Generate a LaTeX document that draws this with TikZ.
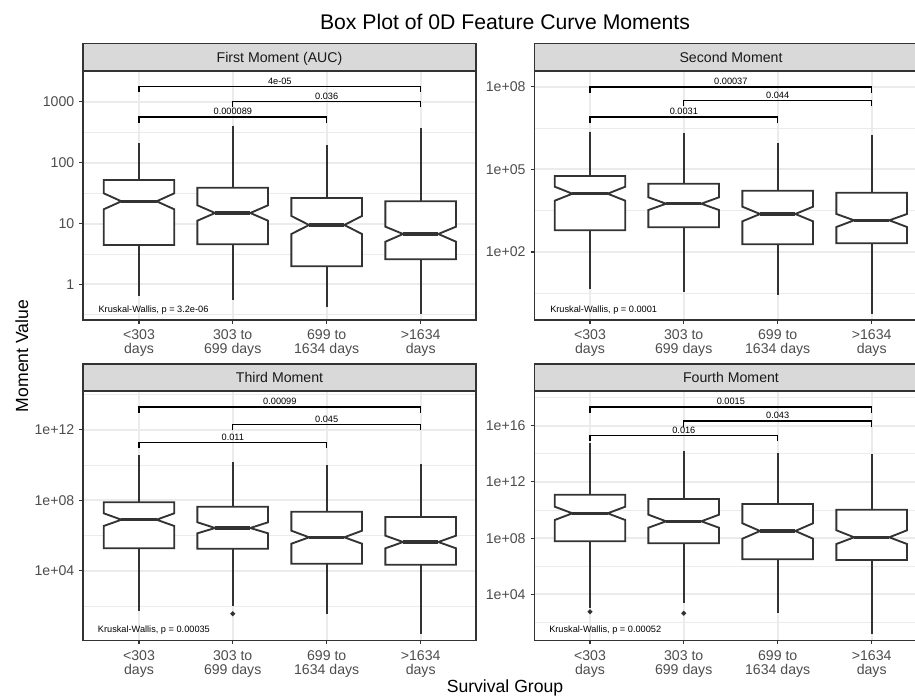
\documentclass[tikz,border=0pt]{standalone}
\usepackage{fontspec}
\setmainfont{Liberation Sans}

\definecolor{gridgray}{HTML}{EBEBEB}
\definecolor{linegray}{HTML}{333333}
\definecolor{stripgray}{HTML}{D9D9D9}
\definecolor{ticktext}{HTML}{4D4D4D}

% notched box: x, whisker top, box top, notch top, median, notch bottom, box bottom, whisker bottom
\newcommand{\notchbox}[8]{%
  \draw[whisk] (#1,#2) -- (#1,#3);
  \draw[whisk] (#1,#7) -- (#1,#8);
  \draw[boxline] (#1-35.3,#3) -- (#1+35.3,#3) -- (#1+35.3,#4) -- (#1+17.6,#5) -- (#1+35.3,#6)
    -- (#1+35.3,#7) -- (#1-35.3,#7) -- (#1-35.3,#6) -- (#1-17.6,#5) -- (#1-35.3,#4) -- cycle;
  \draw[medline] (#1-17.6,#5) -- (#1+17.6,#5);
}
% p-value bracket: x from, x to, y, label
\newcommand{\pbracket}[4]{%
  \draw[bracket] (#1,#3+5.5) -- (#1,#3) -- (#2,#3) -- (#2,#3+5.5);
  \node[smalltext, anchor=base] at ({(#1+#2)/2},#3-2.1) {#4};
}
% y tick: panel left, y, label
\newcommand{\ytick}[3]{%
  \draw[tickline] (#1-3.7,#2) -- (#1,#2);
  \node[ticklab, anchor=east] at (#1-8.5,#2) {#3};
}
% outlier diamond
\newcommand{\outpt}[2]{%
  \fill[linegray] (#1,#2-2.6) -- (#1+2.6,#2) -- (#1,#2+2.6) -- (#1-2.6,#2) -- cycle;
}

\begin{document}
\begin{tikzpicture}[
    x=0.75pt, y=-0.75pt,
    gridmaj/.style={draw=gridgray, line width=1.4pt},
    gridmin/.style={draw=gridgray, line width=0.7pt},
    whisk/.style={draw=linegray, line width=1.4pt},
    boxline/.style={draw=linegray, fill=white, line width=1.4pt, line join=miter},
    medline/.style={draw=linegray, line width=2.4pt},
    bracket/.style={draw=black, line width=0.8pt},
    tickline/.style={draw=linegray, line width=1pt},
    frame/.style={draw=linegray, line width=1pt},
    strip/.style={draw=linegray, fill=stripgray, line width=1pt},
    ticklab/.style={inner sep=0pt, text=ticktext, font=\fontsize{10.6}{11}\selectfont},
    xlab/.style={inner sep=0pt, text=ticktext, align=center, anchor=north, font=\fontsize{10.6}{10.6}\selectfont},
    striplab/.style={inner sep=0pt, text=black!90, anchor=base, font=\fontsize{10.6}{11}\selectfont},
    smalltext/.style={inner sep=0pt, font=\fontsize{6.9}{7}\selectfont},
    axtitle/.style={inner sep=0pt, font=\fontsize{13.2}{14}\selectfont}
  ]
  \useasboundingbox (0,0) rectangle (915,696);
  \clip (0,0) rectangle (915,696);

  % Titles
  \node[inner sep=0pt, anchor=base, font=\fontsize{15.9}{17}\selectfont] (title) at (505,30) {Box Plot of 0D Feature Curve Moments};
  \node[axtitle, anchor=base] (xtitle) at (505,692.5) {Survival Group};
  \node[axtitle, anchor=base, rotate=90] (ytitle) at (28,356) {Moment Value};

  % Panel 1 - First Moment (AUC)
  \draw[gridmin] (83,132.2) -- (476,132.2) (83,193.2) -- (476,193.2) (83,254) -- (476,254) (83,314.8) -- (476,314.8);
  \draw[gridmaj] (83,101.7) -- (476,101.7) (83,162.7) -- (476,162.7) (83,223.7) -- (476,223.7) (83,284.3) -- (476,284.3);
  \draw[gridmaj] (139,71) -- (139,320) (232.7,71) -- (232.7,320) (326.7,71) -- (326.7,320) (420.7,71) -- (420.7,320);
  \notchbox{139}{143.3}{180}{193.3}{201.3}{209.3}{245}{296}
  \notchbox{232.7}{125.7}{187.7}{205.3}{213}{220.7}{244.3}{300}
  \notchbox{326.7}{145.3}{198}{216}{225}{234}{266.3}{307.3}
  \notchbox{420.7}{128.3}{201.3}{226.7}{234}{241.7}{259.3}{314}
  \pbracket{139}{420.7}{86.7}{4e-05}
  \pbracket{232.7}{420.7}{101.7}{0.036}
  \pbracket{139}{326.7}{117}{0.000089}
  \node[smalltext, anchor=base west] (kw1) at (98.3,312) {Kruskal-Wallis, p = 3.2e-06};
  \draw[frame] (83,71) rectangle (476,320);
  \draw[strip] (83,43.3) rectangle (476,71);
  \node[striplab] (strip1) at (279.5,62) {First Moment (AUC)};
  \ytick{83}{101.7}{1000}
  \ytick{83}{162.7}{100}
  \ytick{83}{223.7}{10}
  \ytick{83}{284.3}{1}

  % Panel 2 - Second Moment
  \draw[gridmin] (534.3,128.3) -- (928,128.3) (534.3,210.7) -- (928,210.7) (534.3,293.3) -- (928,293.3);
  \draw[gridmaj] (534.3,86.7) -- (928,86.7) (534.3,169.3) -- (928,169.3) (534.3,252) -- (928,252);
  \draw[gridmaj] (590,71) -- (590,320) (683.7,71) -- (683.7,320) (777.7,71) -- (777.7,320) (871.7,71) -- (871.7,320);
  \notchbox{590}{131.7}{176}{186.7}{193.7}{200.7}{230.3}{289.3}
  \notchbox{683.7}{132.7}{183.7}{197.3}{203.7}{210}{227.3}{291.7}
  \notchbox{777.7}{143}{190.7}{206.7}{214}{221.3}{244.3}{295}
  \notchbox{871.7}{135}{192.7}{214}{220.3}{227}{243.3}{314}
  \pbracket{590}{871.7}{87}{0.00037}
  \pbracket{683.7}{871.7}{100.3}{0.044}
  \pbracket{590}{777.7}{117}{0.0031}
  \node[smalltext, anchor=base west] (kw2) at (550,312) {Kruskal-Wallis, p = 0.0001};
  \draw[frame] (534.3,71) rectangle (928,320);
  \draw[strip] (534.3,43.3) rectangle (928,71);
  \node[striplab] (strip2) at (731,62) {Second Moment};
  \ytick{534.3}{86.7}{1e+08}
  \ytick{534.3}{169.3}{1e+05}
  \ytick{534.3}{252}{1e+02}

  % Panel 3 - Third Moment
  \draw[gridmin] (83,394.4) -- (476,394.4) (83,465) -- (476,465) (83,535.5) -- (476,535.5) (83,606) -- (476,606);
  \draw[gridmaj] (83,429.7) -- (476,429.7) (83,500.3) -- (476,500.3) (83,570.7) -- (476,570.7);
  \draw[gridmaj] (139,391) -- (139,640.7) (232.7,391) -- (232.7,640.7) (326.7,391) -- (326.7,640.7) (420.7,391) -- (420.7,640.7);
  \notchbox{139}{455.3}{502.3}{513.3}{519.7}{526}{548.3}{610.7}
  \notchbox{232.7}{462.3}{506.7}{522.3}{528}{533.3}{548.7}{606}
  \notchbox{326.7}{465.3}{511.7}{530.7}{537.3}{543.7}{563.7}{614}
  \notchbox{420.7}{464}{517}{535.7}{542}{548.3}{564.7}{634}
  \outpt{232.7}{613.7}
  \pbracket{139}{420.7}{407}{0.00099}
  \pbracket{232.7}{420.7}{424.7}{0.045}
  \pbracket{139}{326.7}{442.3}{0.011}
  \node[smalltext, anchor=base west] (kw3) at (97.7,632.6) {Kruskal-Wallis, p = 0.00035};
  \draw[frame] (83,391) rectangle (476,640.7);
  \draw[strip] (83,364) rectangle (476,391);
  \node[striplab] (strip3) at (279.5,382.5) {Third Moment};
  \ytick{83}{429.7}{1e+12}
  \ytick{83}{500.3}{1e+08}
  \ytick{83}{570.7}{1e+04}

  % Panel 4 - Fourth Moment
  \draw[gridmin] (534.3,397.5) -- (928,397.5) (534.3,453.5) -- (928,453.5) (534.3,510) -- (928,510) (534.3,566) -- (928,566) (534.3,622.3) -- (928,622.3);
  \draw[gridmaj] (534.3,425.7) -- (928,425.7) (534.3,481.7) -- (928,481.7) (534.3,538.3) -- (928,538.3) (534.3,594.3) -- (928,594.3);
  \draw[gridmaj] (590,391) -- (590,640.7) (683.7,391) -- (683.7,640.7) (777.7,391) -- (777.7,640.7) (871.7,391) -- (871.7,640.7);
  \notchbox{590}{443.3}{494.7}{506.7}{513.3}{520}{541.3}{608.3}
  \notchbox{683.7}{450.7}{499}{514.7}{521.3}{527.7}{543.3}{603.3}
  \notchbox{777.7}{453.3}{504}{523.3}{531}{538.7}{559.3}{612.7}
  \notchbox{871.7}{454.3}{509.7}{530.3}{537.3}{544}{560}{634}
  \outpt{590}{611.7}
  \outpt{683.7}{613.3}
  \pbracket{590}{871.7}{407}{0.0015}
  \pbracket{683.7}{871.7}{421}{0.043}
  \pbracket{590}{777.7}{435.3}{0.016}
  \node[smalltext, anchor=base west] (kw4) at (549,632.6) {Kruskal-Wallis, p = 0.00052};
  \draw[frame] (534.3,391) rectangle (928,640.7);
  \draw[strip] (534.3,364) rectangle (928,391);
  \node[striplab] (strip4) at (731,382.5) {Fourth Moment};
  \ytick{534.3}{425.7}{1e+16}
  \ytick{534.3}{481.7}{1e+12}
  \ytick{534.3}{538.3}{1e+08}
  \ytick{534.3}{594.3}{1e+04}

  % x axis ticks and group labels
  \draw[tickline] (139,320) -- (139,323.7) (232.7,320) -- (232.7,323.7) (326.7,320) -- (326.7,323.7) (420.7,320) -- (420.7,323.7);
  \draw[tickline] (590,320) -- (590,323.7) (683.7,320) -- (683.7,323.7) (777.7,320) -- (777.7,323.7) (871.7,320) -- (871.7,323.7);
  \draw[tickline] (139,640.7) -- (139,644.4) (232.7,640.7) -- (232.7,644.4) (326.7,640.7) -- (326.7,644.4) (420.7,640.7) -- (420.7,644.4);
  \draw[tickline] (590,640.7) -- (590,644.4) (683.7,640.7) -- (683.7,644.4) (777.7,640.7) -- (777.7,644.4) (871.7,640.7) -- (871.7,644.4);
  \node[xlab] (g1a) at (139,329.3) {<303\\days};
  \node[xlab] (g2a) at (232.7,329.3) {303 to\\699 days};
  \node[xlab] (g3a) at (326.7,329.3) {699 to\\1634 days};
  \node[xlab] (g4a) at (420.7,329.3) {>1634\\days};
  \node[xlab] (g1b) at (590,329.3) {<303\\days};
  \node[xlab] (g2b) at (683.7,329.3) {303 to\\699 days};
  \node[xlab] (g3b) at (777.7,329.3) {699 to\\1634 days};
  \node[xlab] (g4b) at (871.7,329.3) {>1634\\days};
  \node[xlab] (g1c) at (139,650) {<303\\days};
  \node[xlab] (g2c) at (232.7,650) {303 to\\699 days};
  \node[xlab] (g3c) at (326.7,650) {699 to\\1634 days};
  \node[xlab] (g4c) at (420.7,650) {>1634\\days};
  \node[xlab] (g1d) at (590,650) {<303\\days};
  \node[xlab] (g2d) at (683.7,650) {303 to\\699 days};
  \node[xlab] (g3d) at (777.7,650) {699 to\\1634 days};
  \node[xlab] (g4d) at (871.7,650) {>1634\\days};

\end{tikzpicture}
\end{document}
